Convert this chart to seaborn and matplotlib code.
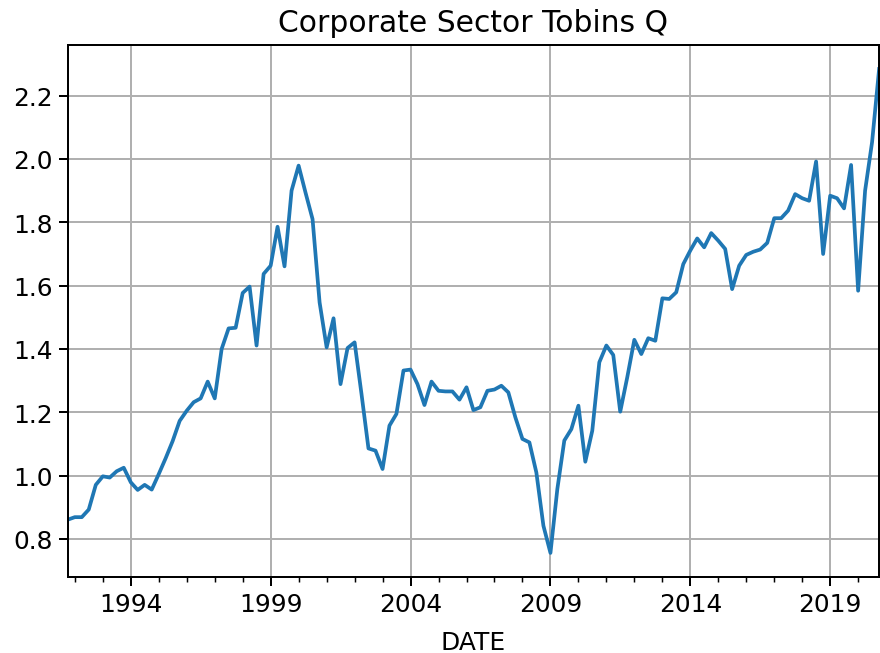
import pandas as pd
import numpy as np
import seaborn as sns
import matplotlib
matplotlib.use("Agg")
import matplotlib.pyplot as plt
import matplotlib.dates as mdates

# Quarterly Tobin's Q, 1991Q4 - 2020Q4
start_quarter = "1991Q4"
end_quarter = "2020Q4"
tobins_q = [
    0.861, 0.869, 0.869, 0.893, 0.971, 0.998, 0.994, 1.014, 1.025, 0.979,
    0.955, 0.971, 0.956, 1.005, 1.055, 1.109, 1.173, 1.205, 1.232, 1.244,
    1.297, 1.244, 1.400, 1.465, 1.467, 1.577, 1.597, 1.411, 1.637, 1.663,
    1.786, 1.661, 1.900, 1.979, 1.893, 1.810, 1.547, 1.405, 1.497, 1.289,
    1.403, 1.421, 1.258, 1.086, 1.079, 1.021, 1.158, 1.195, 1.332, 1.335,
    1.289, 1.223, 1.297, 1.268, 1.266, 1.266, 1.240, 1.279, 1.207, 1.216,
    1.268, 1.272, 1.284, 1.263, 1.184, 1.116, 1.105, 1.010, 0.842, 0.756,
    0.958, 1.111, 1.147, 1.221, 1.044, 1.142, 1.358, 1.411, 1.381, 1.202,
    1.311, 1.429, 1.384, 1.434, 1.426, 1.560, 1.558, 1.579, 1.668, 1.711,
    1.749, 1.721, 1.766, 1.742, 1.716, 1.589, 1.663, 1.697, 1.707, 1.714,
    1.735, 1.813, 1.813, 1.837, 1.889, 1.876, 1.868, 1.992, 1.700, 1.884,
    1.876, 1.844, 1.981, 1.584, 1.900, 2.053, 2.284,
]
tick_years = [1994, 1999, 2004, 2009, 2014, 2019]

dates = pd.period_range(start_quarter, end_quarter, freq="Q").to_timestamp()
df = pd.DataFrame({"DATE": dates, "Q": tobins_q})

# everything in the reference is ~1.3x the matplotlib defaults
s = 1.3
plt.rcParams.update({
    "font.size": 10 * s,
    "axes.linewidth": 0.8 * s,
    "xtick.major.size": 3.5 * s, "ytick.major.size": 3.5 * s,
    "xtick.minor.size": 2 * s, "ytick.minor.size": 2 * s,
    "xtick.major.width": 0.8 * s, "ytick.major.width": 0.8 * s,
    "xtick.minor.width": 0.6 * s,
})

fig, ax = plt.subplots(figsize=(6.4, 4.756), dpi=137.5)
sns.lineplot(data=df, x="DATE", y="Q", ax=ax, color="#1f77b4", linewidth=1.5 * s)

ax.set_xlim(df["DATE"].iloc[0], df["DATE"].iloc[-1])
ax.set_xticks([pd.Timestamp(f"{y}-01-01") for y in tick_years])
ax.xaxis.set_major_formatter(mdates.DateFormatter("%Y"))
ax.xaxis.set_minor_locator(mdates.YearLocator(1))
ax.set_yticks([0.8, 1.0, 1.2, 1.4, 1.6, 1.8, 2.0, 2.2])
ax.yaxis.set_major_formatter(matplotlib.ticker.FormatStrFormatter("%.1f"))

ax.grid(True, which="major", color="#b0b0b0", linewidth=0.8 * s)
ax.set_title("Corporate Sector Tobins Q", fontsize=12 * s, pad=7)
ax.set_xlabel("DATE", labelpad=7)
ax.set_ylabel("")

plt.subplots_adjust(left=0.077, right=0.999, top=0.93, bottom=0.116)
plt.savefig("out.png", dpi=137.5)
